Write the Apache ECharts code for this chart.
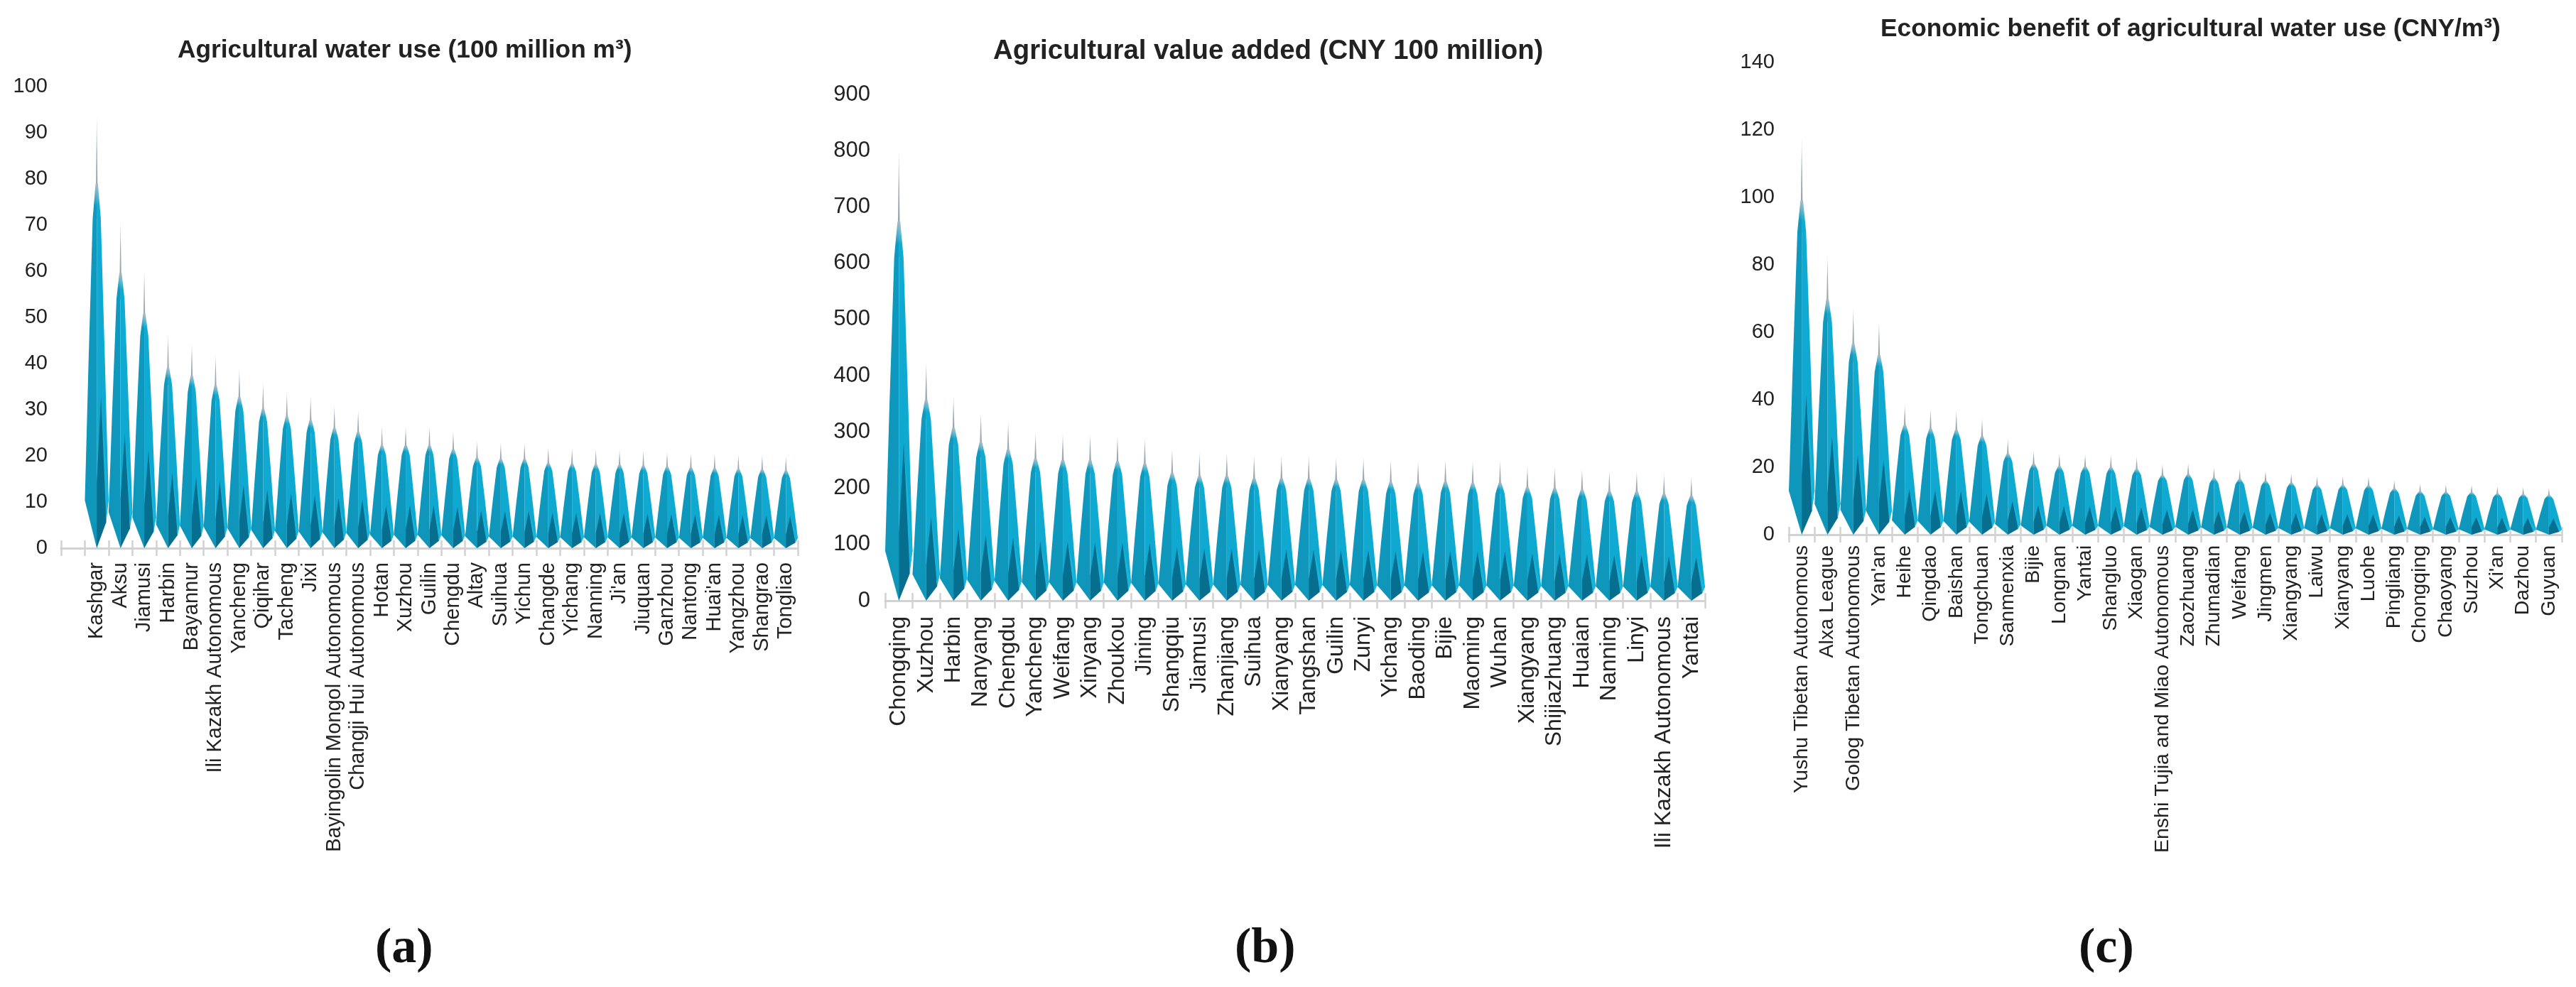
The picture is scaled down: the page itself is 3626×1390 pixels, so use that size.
<!DOCTYPE html>
<html>
<head>
<meta charset="utf-8">
<style>html,body{margin:0;padding:0;background:#fff}#c{width:3626px;height:1390px}</style>
<script src="https://cdn.jsdelivr.net/npm/echarts@6/dist/echarts.min.js"></script>
</head>
<body>
<div id="c"></div>
<script>
const categoriesA = ['', 'Kashgar','Aksu','Jiamusi','Harbin','Bayannur','Ili Kazakh Autonomous','Yancheng','Qiqihar','Tacheng','Jixi','Bayingolin Mongol Autonomous','Changji Hui Autonomous','Hotan','Xuzhou','Guilin','Chengdu','Altay','Suihua','Yichun','Changde','Yichang','Nanning',"Ji'an",'Jiuquan','Ganzhou','Nantong',"Huai'an",'Yangzhou','Shangrao','Tongliao'];
const valuesA = [null,94,71,60.5,46.5,44.5,42,39,36,34,33,31,30,26.5,26.5,26.5,25.5,23.3,23,23,22,21.8,21.6,21.5,21.3,21,20.8,20.6,20.4,20.3,20];
const categoriesB = ['Chongqing','Xuzhou','Harbin','Nanyang','Chengdu','Yancheng','Weifang','Xinyang','Zhoukou','Jining','Shangqiu','Jiamusi','Zhanjiang','Suihua','Xianyang','Tangshan','Guilin','Zunyi','Yichang','Baoding','Bijie','Maoming','Wuhan','Xiangyang','Shijiazhuang','Huaian','Nanning','Linyi','Ili Kazakh Autonomous','Yantai'];
const valuesB = [803,425,365,335,320,300,298,297,295,290,270,264,264,259,259,258,256,256,251,249,252,249,250,240,238,235,232,231,226,222];
const categoriesC = ['Yushu Tibetan Autonomous','Alxa League','Golog Tibetan Autonomous',"Yan'an",'Heihe','Qingdao','Baishan','Tongchuan','Sanmenxia','Bijie','Longnan','Yantai','Shangluo','Xiaogan','Enshi Tujia and Miao Autonomous','Zaozhuang','Zhumadian','Weifang','Jingmen','Xiangyang','Laiwu','Xianyang','Luohe','Pingliang','Chongqing','Chaoyang','Suzhou',"Xi'an",'Dazhou','Guyuan'];
const valuesC = [118,83,67.4,63.4,38.7,37.5,37,34.7,28.6,25,24.2,24,23.8,23.2,21,21.3,20,19.6,19,18.3,17.5,17.5,17.3,16.2,15.2,15,14.9,14.5,14.2,13.9];

const titleA = 'Agricultural water use (100 million m³)';
const titleB = 'Agricultural value added (CNY 100 million)';
const titleC = 'Economic benefit of agricultural water use (CNY/m³)';

const panels = [
  {cats:categoriesA, vals:valuesA, max:100, step:10, left:86,  top:122, w:1037, h:650, yFont:29, xFont:29, xMargin:20, yMargin:19, title:titleA, tLeft:250,  tTop:54, tFont:35.3, tag:'a', tagLeft:528},
  {cats:categoriesB, vals:valuesB, max:900, step:100, left:1246, top:133, w:1154, h:713, yFont:31, xFont:32, xMargin:22, yMargin:21, title:titleB, tLeft:1398, tTop:53, tFont:38.4, tag:'b', tagLeft:1738},
  {cats:categoriesC, vals:valuesC, max:140, step:20, left:2518, top:88,  w:1088, h:665, yFont:29, xFont:28.5, xMargin:15, yMargin:20, title:titleC, tLeft:2647, tTop:24, tFont:35.3, tag:'c', tagLeft:2926}
];

function grad(stops){ return new echarts.graphic.LinearGradient(0,0,0,1,stops.map(s=>({offset:s[0],color:s[1]}))); }

function renderSpike(params, api){
  const i = api.value(0), v = api.value(1);
  if (v == null || isNaN(v)) return;
  const band = api.size([1,0])[0];
  const cx = api.coord([i,0])[0];
  const p = (fx,f) => [cx + fx*band, api.coord([i, v*f])[1]];
  const poly = (pts, fill) => ({type:'polygon', shape:{points:pts.map(a=>p(a[0],a[1]))}, style:{fill:fill}, silent:true});
  const s = 0.11;
  return {type:'group', children:[
    poly([[-.05,.76],[0,1],[.05,.76]], grad([[0,'#d5dadd'],[.35,'#a3acb1'],[1,'#8fa0a9']])),
    poly([[0,0],[-.5,s],[-.35,.42],[-.17,.76],[-.05,.84],[0,.84]], grad([[0,'#aebcc3'],[.03,'#5fb0ca'],[.06,'#0f99bf'],[1,'#0e95ba']])),
    poly([[0,0],[.5,s],[.35,.42],[.17,.76],[.05,.84],[0,.84]], grad([[0,'#aebcc3'],[.03,'#63bad3'],[.06,'#0fabd3'],[1,'#0fa7ce']])),
    poly([[.18,.35],[.5,s],[.4,.06]], '#18b4da'),
    poly([[0,0],[0,.15],[.18,.35],[.4,.06]], '#066e8f')
  ]};
}

const grid=[], xAxis=[], yAxis=[], series=[], title=[];
panels.forEach((d,k)=>{
  grid.push({left:d.left, top:d.top, width:d.w, height:d.h, containLabel:false});
  const tickStyle = {color:'#d2d2d2', width:2.5};
  xAxis.push({type:'category', gridIndex:k, position:'bottom', data:d.cats, boundaryGap:true,
    axisLine:{show:true, lineStyle:{color:'#d2d2d2', width:3}},
    axisTick:{show:true, length:11, lineStyle:tickStyle, alignWithLabel:false, interval:0},
    axisLabel:{show:true, interval:0, rotate:90, margin:d.xMargin, hideOverlap:false, fontFamily:'"Liberation Sans"', fontSize:d.xFont, color:'#222'},
    splitLine:{show:false}});
  xAxis.push({type:'category', gridIndex:k, position:'bottom', data:d.cats, boundaryGap:true,
    axisLine:{show:false},
    axisTick:{show:true, inside:true, length:11, lineStyle:tickStyle, interval:0},
    axisLabel:{show:false}, splitLine:{show:false}});
  yAxis.push({type:'value', gridIndex:k, min:0, max:d.max, interval:d.step,
    axisLine:{show:false}, axisTick:{show:false}, splitLine:{show:false},
    axisLabel:{margin:d.yMargin, fontFamily:'"Liberation Sans"', fontSize:d.yFont, color:'#222'}});
  series.push({type:'custom', xAxisIndex:k*2, yAxisIndex:k, clip:false, renderItem:renderSpike,
    encode:{x:0,y:1}, data:d.vals.map((v,i)=>[i,v]).filter(a=>a[1]!=null)});
  title.push({text:d.title, left:d.tLeft, top:d.tTop, padding:0, textStyle:{fontFamily:'"Liberation Sans"', fontWeight:'bold', fontSize:d.tFont, color:'#222'}});
  title.push({text:'{p|(}{l|'+d.tag+'}{p|)}', left:d.tagLeft, top:1302, padding:0, textStyle:{rich:{
    p:{fontFamily:'"Liberation Serif"', fontSize:70, color:'#111'},
    l:{fontFamily:'"Liberation Serif"', fontSize:70, fontWeight:'bold', color:'#111'}}}});
});

const chart = echarts.init(document.getElementById('c'), null, {renderer:'canvas'});
chart.setOption({animation:false, backgroundColor:'#fff', title, grid, xAxis, yAxis, series});
</script>
</body>
</html>
